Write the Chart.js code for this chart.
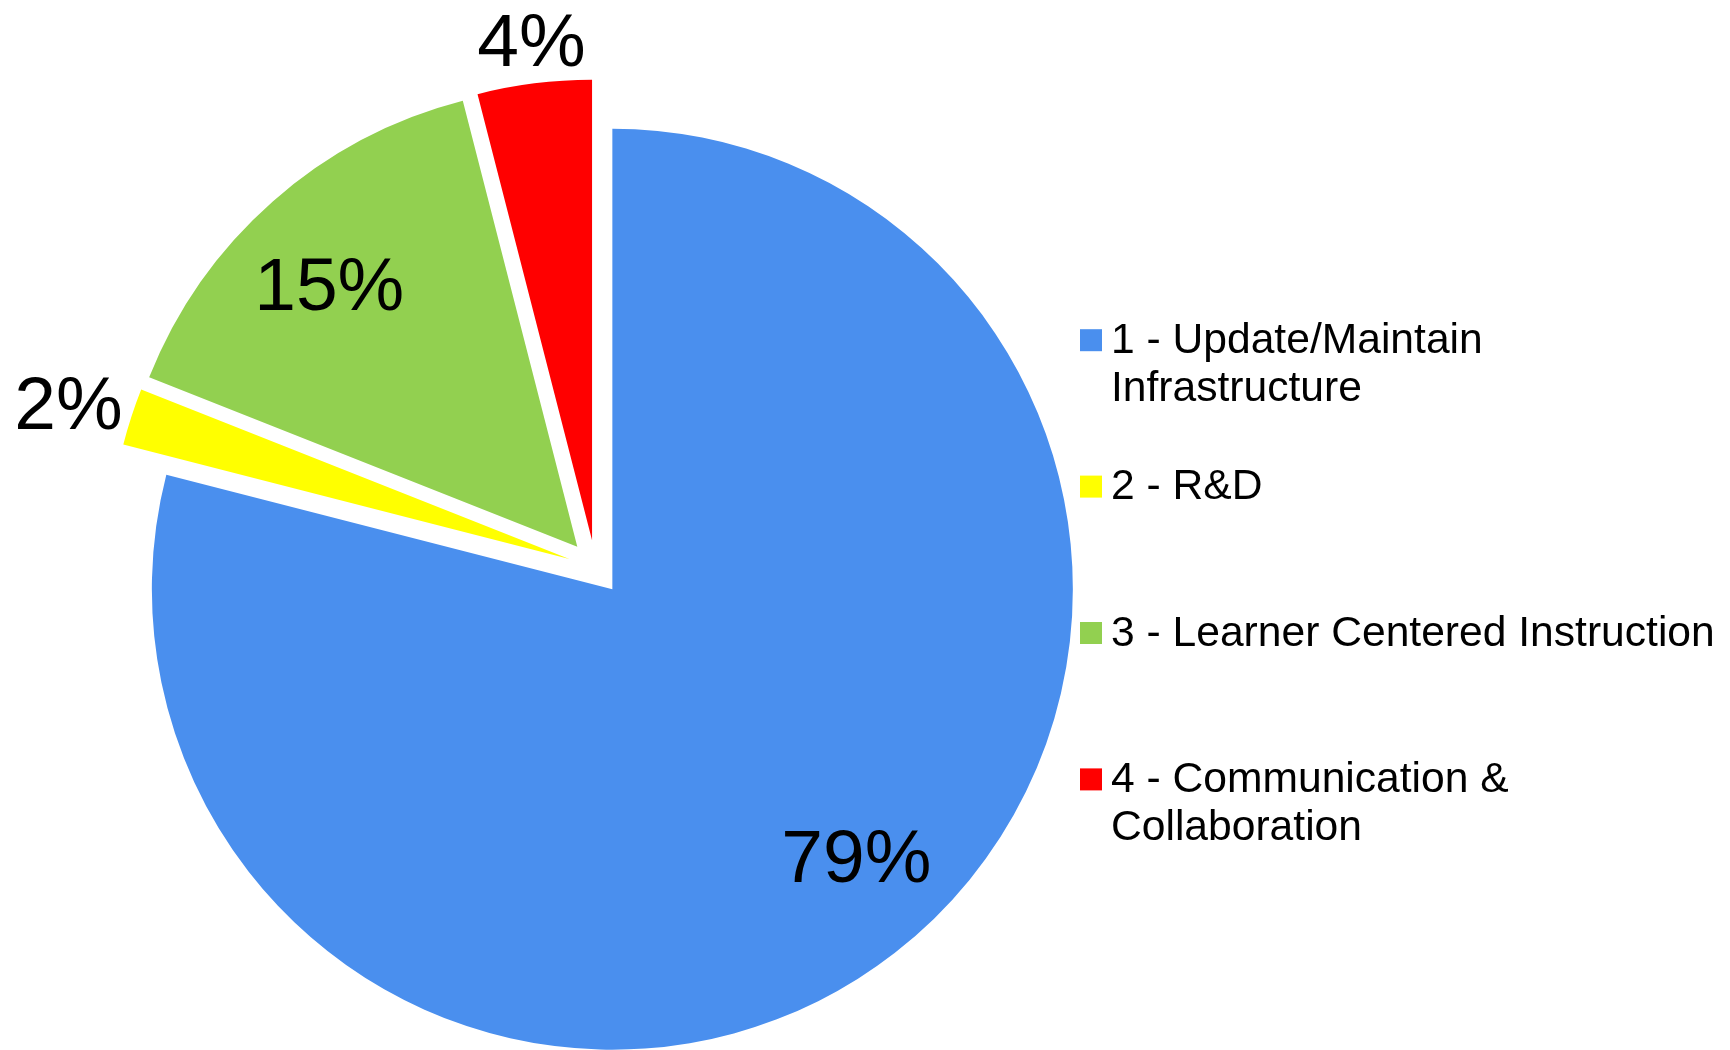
<!DOCTYPE html>
<html>
<head>
<meta charset="utf-8">
<script src="https://cdn.jsdelivr.net/npm/chart.js@4.4.1/dist/chart.umd.min.js"></script>
<style>
html, body { margin: 0; padding: 0; background: #ffffff; }
#wrap { width: 1730px; height: 1050px; position: relative; }
</style>
</head>
<body>
<div id="wrap"><canvas id="c"></canvas></div>
<script>
// ---- data ----
const categories = [
  ['1 - Update/Maintain', 'Infrastructure'],
  ['2 - R&D'],
  ['3 - Learner Centered Instruction'],
  ['4 - Communication &', 'Collaboration']
];
const values = [79, 2, 15, 4];
const colors = ['#4A8FEE', '#FFFF00', '#92D050', '#FF0000'];

// ---- plugins ----
const FONT = '"Liberation Sans", Arial, "DejaVu Sans", sans-serif';

const explodePlugin = {
  id: 'explode',
  beforeDatasetDraw(chart, args, opts) {
    const ctx = chart.ctx;
    args.meta.data.forEach(arc => {
      const mid = (arc.startAngle + arc.endAngle) / 2;
      ctx.save();
      ctx.translate(Math.cos(mid) * opts.distance, Math.sin(mid) * opts.distance);
      arc.draw(ctx);
      ctx.restore();
    });
    return false;
  }
};

const pctLabelPlugin = {
  id: 'pctLabels',
  afterDatasetsDraw(chart, args, opts) {
    const ctx = chart.ctx;
    const meta = chart.getDatasetMeta(0);
    const data = chart.data.datasets[0].data;
    const total = data.reduce((a, b) => a + b, 0);
    const e = chart.options.plugins.explode.distance;
    ctx.save();
    ctx.font = opts.size + 'px ' + FONT;
    ctx.fillStyle = '#000000';
    ctx.textAlign = 'center';
    ctx.textBaseline = 'alphabetic';
    meta.data.forEach((arc, i) => {
      const mid = (arc.startAngle + arc.endAngle) / 2;
      const ox = arc.x + Math.cos(mid) * e;
      const oy = arc.y + Math.sin(mid) * e;
      const p = opts.place[i];
      const a = mid + p.da * Math.PI / 180;
      const r = p.r * arc.outerRadius;
      const x = ox + Math.cos(a) * r;
      const y = oy + Math.sin(a) * r;
      const txt = Math.round(data[i] / total * 100) + '%';
      ctx.fillText(txt, x, y + 0.358 * opts.size);
    });
    ctx.restore();
  }
};

const sideLegendPlugin = {
  id: 'sideLegend',
  afterDraw(chart, args, opts) {
    const ctx = chart.ctx;
    const ds = chart.data.datasets[0];
    ctx.save();
    ctx.font = opts.size + 'px ' + FONT;
    ctx.textAlign = 'left';
    ctx.textBaseline = 'alphabetic';
    chart.data.labels.forEach((lab, i) => {
      const base = opts.firstBaseline + i * opts.itemStep;
      ctx.fillStyle = ds.backgroundColor[i];
      ctx.fillRect(opts.boxX, base - opts.boxRise, opts.box, opts.box);
      ctx.fillStyle = '#000000';
      const lines = Array.isArray(lab) ? lab : [lab];
      lines.forEach((ln, k) => {
        ctx.fillText(ln, opts.textX, base + k * opts.lineHeight);
      });
    });
    ctx.restore();
  }
};

new Chart(document.getElementById('c'), {
  type: 'pie',
  data: {
    labels: categories,
    datasets: [{
      data: values,
      backgroundColor: colors,
      borderWidth: 0,
      hoverOffset: 0,
      offset: 0
    }]
  },
  options: {
    responsive: true,
    maintainAspectRatio: false,
    animation: false,
    events: [],
    radius: 460.5,
    layout: { padding: { left: 0, right: 539, top: 85, bottom: 0 } },
    plugins: {
      legend: { display: false },
      tooltip: { enabled: false },
      explode: { distance: 27.5 },
      pctLabels: {
        size: 75,
        place: [
          { r: 0.784, da: -4.7 },
          { r: 1.14, da: -0.6 },
          { r: 0.787, da: -1.8 },
          { r: 1.096, da: 0.3 }
        ]
      },
      sideLegend: {
        size: 42.6,
        boxX: 1080, box: 22, boxRise: 23.5,
        textX: 1111,
        firstBaseline: 352.7, itemStep: 146.4, lineHeight: 48
      }
    }
  },
  plugins: [explodePlugin, pctLabelPlugin, sideLegendPlugin]
});
</script>
</body>
</html>
